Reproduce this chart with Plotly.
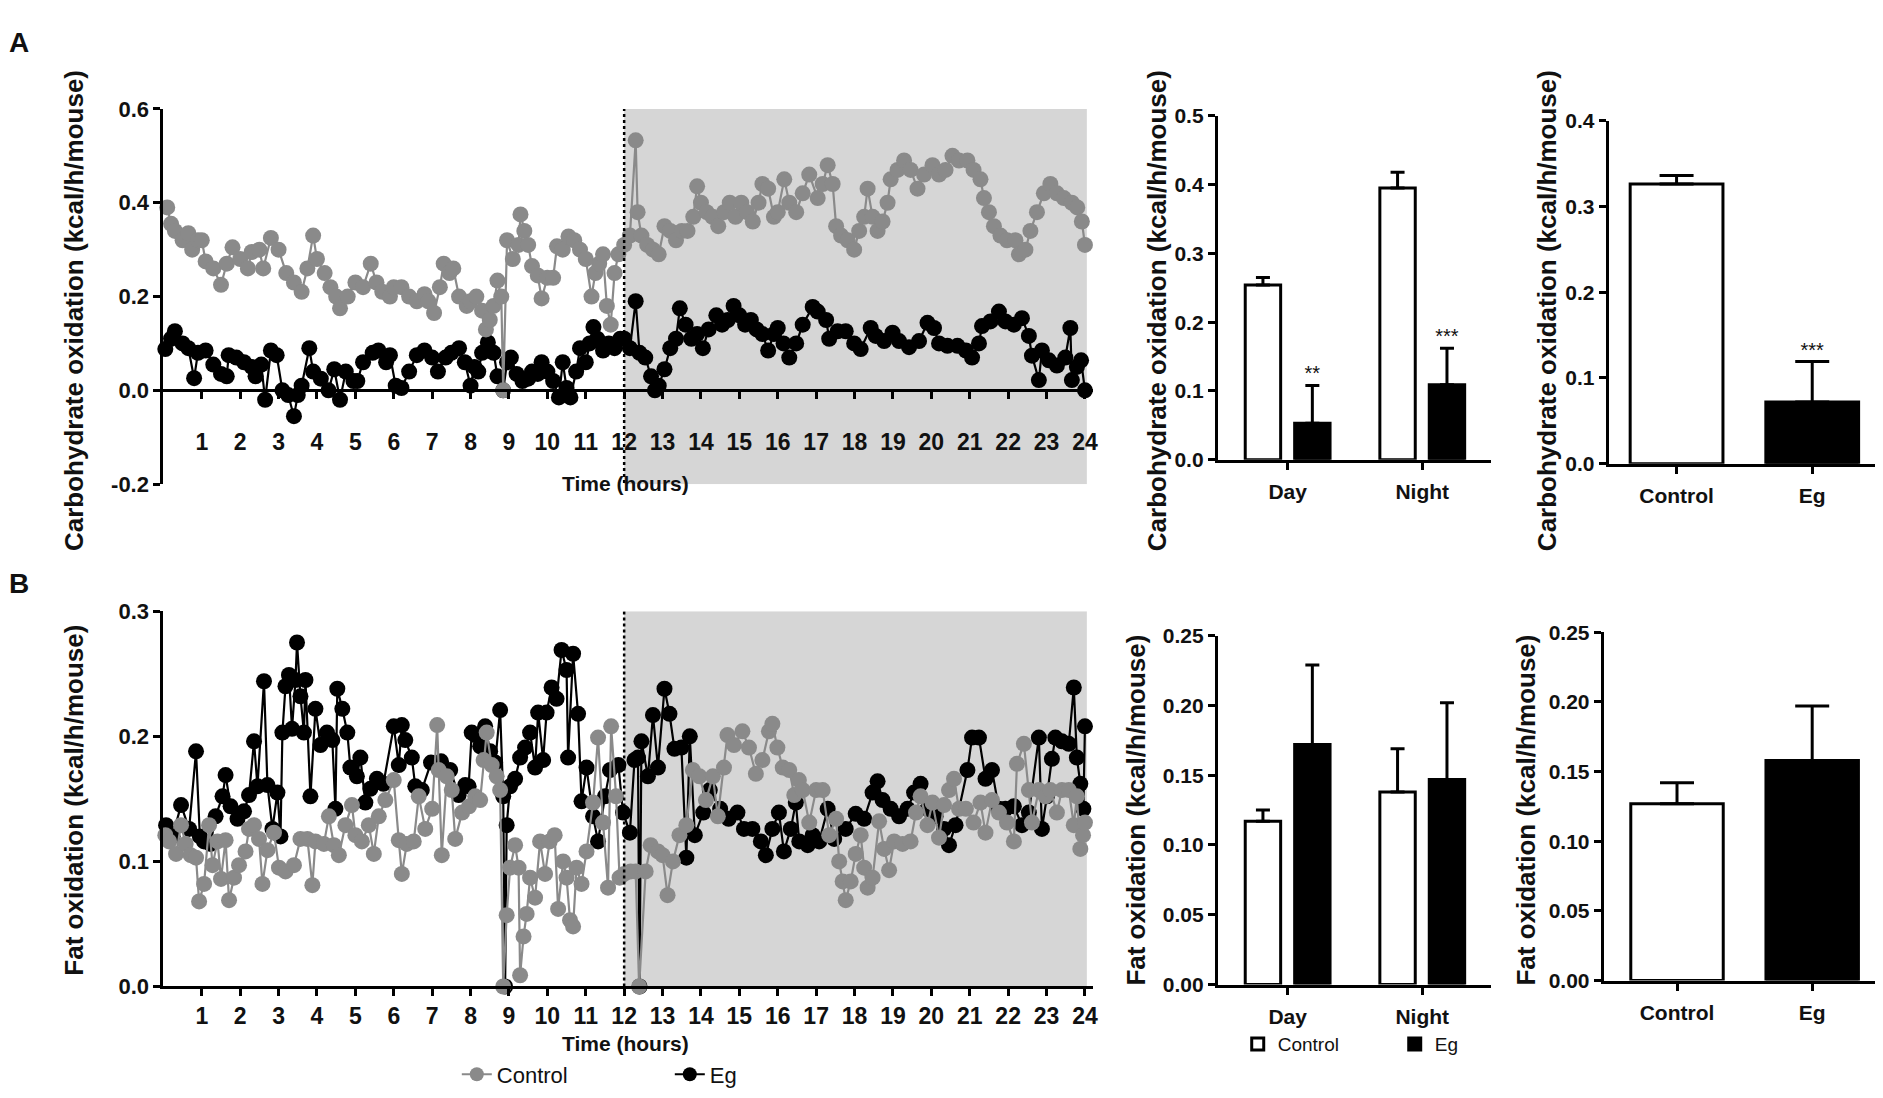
import plotly.graph_objects as go

W, H = 1883, 1098

# ---------------- data ----------------
hour_ticks = list(range(1, 25))
hour_labels = [str(h) for h in hour_ticks]
lights_off = 12
day_end = 24.05

a_ctrl_t = [0.1, 0.2, 0.3, 0.5, 0.65, 0.75, 0.9, 1.0, 1.1, 1.3, 1.5, 1.65, 1.8, 2.0, 2.2, 2.3, 2.5, 2.6, 2.8, 3.0,
            3.2, 3.4, 3.6, 3.75, 3.9, 4.0, 4.2, 4.35, 4.5, 4.6, 4.8, 5.0, 5.2, 5.4, 5.55, 5.7, 5.9, 6.0, 6.2, 6.4,
            6.6, 6.8, 6.9, 7.05, 7.2, 7.3, 7.45, 7.55, 7.7, 7.9, 8.0, 8.15, 8.3, 8.4, 8.5, 8.6, 8.7, 8.8, 8.85, 8.95,
            9.1, 9.25, 9.3, 9.4, 9.5, 9.6, 9.75, 9.85, 10.0, 10.15, 10.25, 10.4, 10.55, 10.7, 10.85, 11.0, 11.15, 11.25, 11.35, 11.45,
            11.55, 11.65, 11.75, 11.85, 12.0, 12.15, 12.3, 12.35, 12.45, 12.6, 12.75, 12.9, 13.05, 13.2, 13.35, 13.5, 13.65, 13.8, 13.9, 14.0,
            14.15, 14.3, 14.45, 14.6, 14.75, 14.9, 15.05, 15.2, 15.35, 15.5, 15.6, 15.75, 15.9, 16.0, 16.17, 16.3, 16.48, 16.65, 16.82, 17.04,
            17.17, 17.3, 17.43, 17.52, 17.65, 17.82, 17.99, 18.12, 18.25, 18.34, 18.47, 18.6, 18.73, 18.86, 18.94, 19.12, 19.29, 19.46, 19.64, 19.81,
            20.03, 20.2, 20.37, 20.55, 20.72, 20.94, 21.1, 21.28, 21.37, 21.5, 21.63, 21.8, 21.97, 22.19, 22.28, 22.45, 22.58, 22.75, 22.93, 23.1,
            23.27, 23.45, 23.66, 23.8, 23.92, 24.0]
a_ctrl_v = [0.39, 0.355, 0.34, 0.32, 0.335, 0.30, 0.32, 0.32, 0.275, 0.26, 0.225, 0.27, 0.305, 0.28, 0.26, 0.295, 0.30, 0.26, 0.325, 0.30,
            0.25, 0.23, 0.21, 0.26, 0.33, 0.28, 0.25, 0.22, 0.20, 0.175, 0.20, 0.23, 0.22, 0.27, 0.23, 0.21, 0.20, 0.22, 0.22, 0.20,
            0.19, 0.205, 0.19, 0.165, 0.22, 0.27, 0.25, 0.26, 0.20, 0.18, 0.19, 0.20, 0.17, 0.13, 0.15, 0.18, 0.234, 0.20, 0.0, 0.32,
            0.28, 0.31, 0.375, 0.34, 0.31, 0.265, 0.245, 0.196, 0.24, 0.24, 0.307, 0.30, 0.328, 0.32, 0.30, 0.28, 0.20, 0.25, 0.27, 0.29,
            0.18, 0.14, 0.25, 0.29, 0.31, 0.33, 0.533, 0.38, 0.33, 0.31, 0.30, 0.29, 0.35, 0.34, 0.32, 0.34, 0.34, 0.37, 0.435, 0.40,
            0.38, 0.37, 0.35, 0.38, 0.40, 0.37, 0.40, 0.38, 0.36, 0.40, 0.44, 0.43, 0.37, 0.38, 0.45, 0.40, 0.38, 0.42, 0.46, 0.41,
            0.44, 0.48, 0.44, 0.35, 0.33, 0.32, 0.30, 0.34, 0.37, 0.43, 0.37, 0.34, 0.36, 0.40, 0.45, 0.47, 0.49, 0.47, 0.43, 0.46,
            0.48, 0.46, 0.47, 0.50, 0.49, 0.49, 0.47, 0.45, 0.41, 0.38, 0.35, 0.33, 0.32, 0.32, 0.29, 0.30, 0.34, 0.38, 0.42, 0.44,
            0.42, 0.41, 0.40, 0.39, 0.36, 0.31]

a_eg_t = [0.05, 0.2, 0.3, 0.5, 0.65, 0.8, 0.9, 1.1, 1.3, 1.5, 1.65, 1.7, 1.9, 2.1, 2.3, 2.4, 2.55, 2.65, 2.8, 2.95,
          3.1, 3.25, 3.4, 3.5, 3.6, 3.8, 3.9, 4.1, 4.3, 4.45, 4.6, 4.75, 4.95, 5.05, 5.2, 5.45, 5.6, 5.8, 5.9, 6.05,
          6.2, 6.4, 6.6, 6.8, 7.0, 7.15, 7.35, 7.5, 7.7, 7.85, 8.0, 8.1, 8.2, 8.3, 8.45, 8.6, 8.7, 8.85, 8.95, 9.05,
          9.2, 9.35, 9.5, 9.6, 9.75, 9.85, 10.0, 10.15, 10.3, 10.4, 10.5, 10.6, 10.75, 10.85, 11.0, 11.1, 11.2, 11.3, 11.45, 11.6,
          11.75, 11.9, 12.0, 12.15, 12.3, 12.4, 12.55, 12.7, 12.8, 12.9, 13.05, 13.2, 13.35, 13.45, 13.6, 13.75, 13.9, 14.05, 14.2, 14.4,
          14.55, 14.7, 14.85, 15.0, 15.15, 15.3, 15.45, 15.6, 15.75, 15.9, 16.0, 16.15, 16.3, 16.48, 16.65, 16.91, 17.04, 17.26, 17.34, 17.56,
          17.77, 17.99, 18.16, 18.42, 18.55, 18.77, 18.99, 19.16, 19.42, 19.68, 19.9, 20.07, 20.2, 20.42, 20.68, 20.9, 21.06, 21.24, 21.32, 21.54,
          21.76, 21.93, 22.15, 22.36, 22.54, 22.62, 22.8, 22.88, 23.06, 23.27, 23.49, 23.62, 23.66, 23.79, 23.9, 24.0]
a_eg_v = [0.088, 0.11, 0.126, 0.10, 0.09, 0.026, 0.08, 0.085, 0.055, 0.035, 0.03, 0.075, 0.07, 0.06, 0.05, 0.03, 0.055, -0.02, 0.085, 0.075,
          0.0, -0.01, -0.055, -0.01, 0.01, 0.09, 0.04, 0.025, 0.0, 0.045, -0.02, 0.04, 0.02, 0.02, 0.06, 0.08, 0.085, 0.06, 0.075, 0.01,
          0.005, 0.04, 0.075, 0.085, 0.07, 0.04, 0.07, 0.08, 0.09, 0.06, 0.01, 0.05, 0.04, 0.08, 0.102, 0.08, 0.03, 0.0, 0.06, 0.07,
          0.035, 0.02, 0.025, 0.04, 0.035, 0.06, 0.04, 0.02, -0.015, 0.06, 0.005, -0.015, 0.04, 0.09, 0.06, 0.10, 0.135, 0.11, 0.085, 0.10,
          0.09, 0.11, 0.11, 0.09, 0.19, 0.08, 0.07, 0.03, 0.0, 0.01, 0.045, 0.09, 0.11, 0.175, 0.14, 0.11, 0.12, 0.09, 0.13, 0.16,
          0.14, 0.15, 0.18, 0.16, 0.14, 0.15, 0.13, 0.12, 0.085, 0.12, 0.133, 0.10, 0.07, 0.10, 0.14, 0.178, 0.168, 0.15, 0.11, 0.126,
          0.126, 0.10, 0.088, 0.133, 0.116, 0.105, 0.123, 0.105, 0.092, 0.105, 0.144, 0.133, 0.10, 0.095, 0.095, 0.085, 0.07, 0.10, 0.137, 0.147,
          0.168, 0.147, 0.14, 0.154, 0.116, 0.074, 0.022, 0.085, 0.064, 0.053, 0.07, 0.133, 0.022, 0.05, 0.064, 0.0]

b_ctrl_t = [0.05, 0.15, 0.33, 0.46, 0.58, 0.71, 0.85, 0.93, 1.06, 1.19, 1.28, 1.41, 1.5, 1.62, 1.71, 1.84, 1.97, 2.14, 2.23, 2.36,
            2.49, 2.58, 2.71, 2.88, 3.01, 3.18, 3.4, 3.57, 3.75, 3.88, 3.96, 4.18, 4.31, 4.44, 4.57, 4.74, 4.91, 5.0, 5.17, 5.35,
            5.48, 5.61, 5.78, 6.0, 6.13, 6.21, 6.34, 6.52, 6.65, 6.82, 7.0, 7.13, 7.17, 7.25, 7.38, 7.51, 7.6, 7.78, 7.96, 8.12,
            8.25, 8.34, 8.42, 8.55, 8.68, 8.77, 8.85, 8.94, 9.03, 9.16, 9.25, 9.29, 9.38, 9.46, 9.55, 9.68, 9.81, 9.94, 10.06, 10.19,
            10.28, 10.41, 10.5, 10.59, 10.67, 10.76, 10.89, 11.02, 11.19, 11.32, 11.45, 11.58, 11.66, 11.79, 11.88, 12.0, 12.17, 12.3, 12.39, 12.56,
            12.69, 12.88, 13.0, 13.13, 13.27, 13.44, 13.62, 13.79, 13.96, 14.13, 14.31, 14.44, 14.6, 14.69, 14.86, 15.08, 15.25, 15.43, 15.6, 15.77,
            15.86, 15.99, 16.13, 16.3, 16.43, 16.55, 16.65, 16.82, 17.0, 17.17, 17.34, 17.52, 17.6, 17.69, 17.77, 17.9, 18.03, 18.16, 18.25, 18.34,
            18.47, 18.64, 18.77, 18.9, 19.03, 19.25, 19.46, 19.6, 19.72, 19.9, 20.03, 20.2, 20.33, 20.46, 20.59, 20.72, 20.9, 21.1, 21.28, 21.41,
            21.58, 21.76, 21.97, 22.15, 22.23, 22.41, 22.54, 22.62, 22.8, 22.97, 23.1, 23.27, 23.4, 23.58, 23.71, 23.79, 23.88, 23.95, 24.0]
b_ctrl_v = [0.121, 0.116, 0.106, 0.129, 0.114, 0.105, 0.103, 0.068, 0.082, 0.129, 0.097, 0.116, 0.086, 0.117, 0.069, 0.087, 0.097, 0.108, 0.126, 0.129,
            0.118, 0.082, 0.109, 0.123, 0.095, 0.092, 0.097, 0.118, 0.118, 0.081, 0.116, 0.114, 0.136, 0.113, 0.105, 0.129, 0.145, 0.121, 0.116, 0.129,
            0.106, 0.136, 0.149, 0.165, 0.117, 0.09, 0.114, 0.116, 0.152, 0.126, 0.142, 0.209, 0.173, 0.105, 0.168, 0.157, 0.118, 0.139, 0.144, 0.152,
            0.149, 0.181, 0.203, 0.177, 0.168, 0.157, 0.0, 0.057, 0.095, 0.113, 0.095, 0.009, 0.04, 0.058, 0.087, 0.071, 0.116, 0.09, 0.116, 0.121,
            0.062, 0.10, 0.087, 0.053, 0.048, 0.095, 0.082, 0.108, 0.147, 0.199, 0.131, 0.079, 0.208, 0.152, 0.087, 0.09, 0.092, 0.092, 0.0, 0.092,
            0.113, 0.108, 0.105, 0.073, 0.10, 0.121, 0.129, 0.173, 0.168, 0.149, 0.168, 0.136, 0.175, 0.201, 0.193, 0.204, 0.191, 0.17, 0.181, 0.204,
            0.21, 0.191, 0.175, 0.173, 0.153, 0.165, 0.157, 0.131, 0.157, 0.157, 0.121, 0.134, 0.10, 0.084, 0.069, 0.084, 0.106, 0.121, 0.095, 0.079,
            0.087, 0.132, 0.11, 0.093, 0.116, 0.114, 0.116, 0.139, 0.152, 0.129, 0.147, 0.119, 0.145, 0.157, 0.166, 0.142, 0.142, 0.131, 0.147, 0.123,
            0.149, 0.139, 0.131, 0.116, 0.178, 0.194, 0.157, 0.131, 0.157, 0.152, 0.157, 0.139, 0.157, 0.157, 0.129, 0.152, 0.11, 0.121, 0.131]

b_eg_t = [0.07, 0.24, 0.46, 0.67, 0.85, 0.95, 1.06, 1.23, 1.36, 1.54, 1.62, 1.75, 1.93, 2.1, 2.23, 2.36, 2.45, 2.62, 2.71, 2.84,
          2.97, 3.05, 3.1, 3.18, 3.27, 3.35, 3.44, 3.48, 3.57, 3.66, 3.7, 3.83, 3.96, 4.09, 4.26, 4.4, 4.48, 4.53, 4.66, 4.79,
          4.87, 5.04, 5.13, 5.26, 5.39, 5.56, 5.73, 6.0, 6.13, 6.21, 6.3, 6.47, 6.56, 6.73, 6.97, 7.23, 7.47, 7.69, 7.86, 7.95,
          8.03, 8.12, 8.25, 8.38, 8.51, 8.64, 8.77, 8.85, 8.9, 8.94, 9.03, 9.16, 9.29, 9.42, 9.55, 9.68, 9.76, 9.89, 9.98, 10.11,
          10.24, 10.37, 10.5, 10.54, 10.67, 10.8, 10.89, 11.02, 11.19, 11.32, 11.5, 11.63, 11.85, 11.97, 12.15, 12.27, 12.36, 12.4, 12.45, 12.62,
          12.75, 12.88, 13.05, 13.18, 13.31, 13.49, 13.62, 13.71, 13.84, 14.06, 14.23, 14.5, 14.72, 14.95, 15.12, 15.34, 15.56, 15.69, 15.86, 16.03,
          16.16, 16.34, 16.47, 16.56, 16.78, 16.91, 17.08, 17.3, 17.47, 17.77, 18.03, 18.25, 18.47, 18.6, 18.73, 18.94, 19.16, 19.38, 19.55, 19.72,
          19.9, 20.11, 20.33, 20.46, 20.63, 20.94, 21.06, 21.24, 21.41, 21.58, 21.76, 21.93, 22.15, 22.36, 22.54, 22.8, 22.88, 23.01, 23.14, 23.23,
          23.4, 23.58, 23.71, 23.79, 23.88, 23.96, 24.0]
b_eg_v = [0.129, 0.12, 0.145, 0.126, 0.188, 0.12, 0.116, 0.114, 0.136, 0.152, 0.169, 0.144, 0.134, 0.14, 0.153, 0.196, 0.16, 0.244, 0.161, 0.126,
          0.155, 0.12, 0.203, 0.24, 0.249, 0.206, 0.245, 0.275, 0.232, 0.203, 0.245, 0.152, 0.222, 0.193, 0.203, 0.197, 0.142, 0.238, 0.222, 0.203,
          0.175, 0.168, 0.183, 0.147, 0.158, 0.166, 0.162, 0.208, 0.177, 0.209, 0.197, 0.183, 0.16, 0.157, 0.179, 0.18, 0.173, 0.153, 0.161, 0.16,
          0.203, 0.201, 0.192, 0.208, 0.188, 0.179, 0.221, 0.152, 0.0, 0.129, 0.16, 0.166, 0.183, 0.191, 0.203, 0.175, 0.219, 0.181, 0.219, 0.239,
          0.23, 0.269, 0.253, 0.183, 0.266, 0.218, 0.148, 0.175, 0.136, 0.116, 0.152, 0.173, 0.177, 0.139, 0.123, 0.181, 0.183, 0.0, 0.196, 0.168,
          0.217, 0.175, 0.238, 0.218, 0.19, 0.191, 0.103, 0.20, 0.121, 0.139, 0.157, 0.142, 0.134, 0.139, 0.126, 0.126, 0.116, 0.105, 0.126, 0.139,
          0.108, 0.126, 0.147, 0.116, 0.113, 0.121, 0.116, 0.142, 0.118, 0.126, 0.138, 0.134, 0.155, 0.164, 0.149, 0.142, 0.136, 0.142, 0.155, 0.162,
          0.142, 0.136, 0.126, 0.113, 0.129, 0.173, 0.199, 0.199, 0.166, 0.173, 0.142, 0.142, 0.144, 0.129, 0.139, 0.199, 0.126, 0.152, 0.182, 0.199,
          0.196, 0.194, 0.239, 0.183, 0.162, 0.142, 0.208]

period_cats = ["Day", "Night"]
group_cats = ["Control", "Eg"]

cho_period_ctrl = [0.254, 0.395]
cho_period_ctrl_err = [0.011, 0.023]
cho_period_eg = [0.053, 0.109]
cho_period_eg_err = [0.055, 0.053]
cho_period_stars = ["**", "***"]

cho_total = [0.326, 0.072]
cho_total_err = [0.010, 0.047]
cho_total_stars = ["", "***"]

fat_period_ctrl = [0.117, 0.138]
fat_period_ctrl_err = [0.008, 0.031]
fat_period_eg = [0.172, 0.147]
fat_period_eg_err = [0.057, 0.055]

fat_total = [0.127, 0.158]
fat_total_err = [0.015, 0.039]

# ---------------- style ----------------
FONT = "Liberation Sans, Arial, sans-serif"
GRAY = "rgb(138,138,138)"
SHADE = "rgb(214,214,214)"
INK = "#111111"
MSIZE = 16


def fx(p):
    return p / W


def fy(p):
    return 1 - p / H


fig = go.Figure()


def series(t, v, color, name, xa, ya):
    fig.add_trace(go.Scatter(
        x=t, y=v, mode="lines+markers", name=name,
        line=dict(color=color, width=2.2),
        marker=dict(color=color, size=MSIZE),
        xaxis=xa, yaxis=ya, showlegend=False, cliponaxis=False))


series(a_eg_t, a_eg_v, "black", "Eg", "x", "y")
series(a_ctrl_t, a_ctrl_v, GRAY, "Control", "x", "y")
series(b_eg_t, b_eg_v, "black", "Eg", "x2", "y2")
series(b_ctrl_t, b_ctrl_v, GRAY, "Control", "x2", "y2")
# legend entries (Control first, then Eg)
fig.add_trace(go.Scatter(x=[None], y=[None], mode="lines+markers", name="Control",
                         line=dict(color=GRAY, width=2.2), marker=dict(color=GRAY, size=14),
                         xaxis="x2", yaxis="y2", legend="legend"))
fig.add_trace(go.Scatter(x=[None], y=[None], mode="lines+markers", name="Eg",
                         line=dict(color="black", width=2.2), marker=dict(color="black", size=14),
                         xaxis="x2", yaxis="y2", legend="legend"))

BW = 0.263
OFF_C = -0.315
OFF_E = 0.052


def err(arr):
    return dict(type="data", array=arr, arrayminus=[0] * len(arr), symmetric=False,
                color="black", thickness=3, width=7)


def period_bars(ctrl, ctrl_err, eg, eg_err, xa, ya, legend):
    fig.add_trace(go.Bar(x=[0, 1], y=ctrl, name="Control", width=BW, offset=OFF_C,
                         marker=dict(color="white", line=dict(color="black", width=3)),
                         error_y=err(ctrl_err), xaxis=xa, yaxis=ya,
                         showlegend=legend, legend="legend2"))
    fig.add_trace(go.Bar(x=[0, 1], y=eg, name="Eg", width=BW, offset=OFF_E,
                         marker=dict(color="black", line=dict(color="black", width=3)),
                         error_y=err(eg_err), xaxis=xa, yaxis=ya,
                         showlegend=legend, legend="legend2"))


def total_bars(vals, errs, xa, ya):
    fig.add_trace(go.Bar(x=[0, 1], y=vals, width=0.684,
                         marker=dict(color=["white", "black"], line=dict(color="black", width=3)),
                         error_y=dict(type="data", array=errs, arrayminus=[0, 0], symmetric=False,
                                      color="black", thickness=3, width=17),
                         xaxis=xa, yaxis=ya, showlegend=False))


period_bars(cho_period_ctrl, cho_period_ctrl_err, cho_period_eg, cho_period_eg_err, "x3", "y3", False)
total_bars(cho_total, cho_total_err, "x4", "y4")
period_bars(fat_period_ctrl, fat_period_ctrl_err, fat_period_eg, fat_period_eg_err, "x5", "y5", True)
total_bars(fat_total, fat_total_err, "x6", "y6")

# significance stars
for i, s in enumerate(cho_period_stars):
    fig.add_trace(go.Scatter(x=[i + OFF_E + BW / 2], y=[cho_period_eg[i] + cho_period_eg_err[i]],
                             mode="text", text=[s], textposition="top center",
                             textfont=dict(size=20, color=INK, family=FONT),
                             xaxis="x3", yaxis="y3", showlegend=False, cliponaxis=False))
for i, s in enumerate(cho_total_stars):
    if s:
        fig.add_trace(go.Scatter(x=[i], y=[cho_total[i] + cho_total_err[i]],
                                 mode="text", text=[s], textposition="top center",
                                 textfont=dict(size=20, color=INK, family=FONT),
                                 xaxis="x4", yaxis="y4", showlegend=False, cliponaxis=False))

axis_common = dict(showline=True, linecolor="black", linewidth=3, ticks="outside",
                   ticklen=7, tickwidth=2.5, tickcolor="black", showgrid=False, zeroline=False,
                   tickfont=dict(family=FONT, size=21, color=INK, weight="bold"))

time_x = dict(axis_common, range=[0, 24.2], tickvals=hour_ticks, ticktext=hour_labels,
              domain=[fx(155.8), fx(1087.5)],
              tickfont=dict(family=FONT, size=23, color=INK, weight="bold"))

layout = dict(
    width=W, height=H, margin=dict(l=0, r=0, t=0, b=0),
    paper_bgcolor="white", plot_bgcolor="rgba(0,0,0,0)",
    barmode="overlay", font=dict(family=FONT, color=INK),
    xaxis=dict(time_x, anchor="free", position=fy(379), ticklabelstandoff=23),
    yaxis=dict(axis_common, range=[-0.2, 0.6], tickvals=[-0.2, 0, 0.2, 0.4, 0.6],
               ticktext=["-0.2", "0.0", "0.2", "0.4", "0.6"], anchor="x",
               domain=[fy(475), fy(91)], tickfont=dict(family=FONT, size=22, color=INK, weight="bold")),
    xaxis2=dict(time_x, anchor="y2", ticklabelstandoff=0),
    yaxis2=dict(axis_common, range=[0, 0.3], tickvals=[0, 0.1, 0.2, 0.3],
                ticktext=["0.0", "0.1", "0.2", "0.3"], anchor="x2",
                domain=[fy(989), fy(605)], tickfont=dict(family=FONT, size=22, color=INK, weight="bold")),
    xaxis3=dict(axis_common, range=[-0.519, 1.511], tickvals=[0, 1], ticktext=period_cats,
                anchor="y3", domain=[fx(1213), fx(1487)], ticklabelstandoff=4),
    yaxis3=dict(axis_common, range=[0, 0.5], dtick=0.1, tickformat=".1f", anchor="x3",
                domain=[fy(450), fy(98)]),
    xaxis4=dict(axis_common, range=[-0.5, 1.485], tickvals=[0, 1], ticktext=group_cats,
                anchor="y4", domain=[fx(1605), fx(1875)], ticklabelstandoff=4),
    yaxis4=dict(axis_common, range=[0, 0.4], dtick=0.1, tickformat=".1f", anchor="x4",
                domain=[fy(454), fy(103)]),
    xaxis5=dict(axis_common, range=[-0.519, 1.511], tickvals=[0, 1], ticktext=period_cats,
                anchor="y5", domain=[fx(1213), fx(1487)], ticklabelstandoff=4),
    yaxis5=dict(axis_common, range=[0, 0.25], dtick=0.05, tickformat=".2f", anchor="x5",
                domain=[fy(987), fy(630)]),
    xaxis6=dict(axis_common, range=[-0.542, 1.487], tickvals=[0, 1], ticktext=group_cats,
                anchor="y6", domain=[fx(1600), fx(1875)], ticklabelstandoff=4),
    yaxis6=dict(axis_common, range=[0, 0.25], dtick=0.05, tickformat=".2f", anchor="x6",
                domain=[fy(983), fy(626.5)]),
    legend=dict(orientation="h", x=fx(450), y=fy(1079), xanchor="left", yanchor="middle",
                font=dict(family=FONT, size=22, color=INK), entrywidth=168,
                bgcolor="rgba(0,0,0,0)", traceorder="normal"),
    legend2=dict(orientation="h", x=fx(1233), y=fy(1048), xanchor="left", yanchor="middle",
                 font=dict(family=FONT, size=19, color=INK), entrywidth=112,
                 bgcolor="rgba(0,0,0,0)", traceorder="normal"),
)
fig.update_layout(**layout)

# night shading and lights-off line
fig.add_shape(type="rect", xref="x", yref="y", x0=lights_off, x1=day_end, y0=-0.2, y1=0.6,
              fillcolor=SHADE, line=dict(width=0), layer="below")
fig.add_shape(type="rect", xref="x2", yref="y2", x0=lights_off, x1=day_end, y0=0, y1=0.3,
              fillcolor=SHADE, line=dict(width=0), layer="below")
fig.add_shape(type="line", xref="x", yref="y", x0=lights_off, x1=lights_off, y0=-0.21, y1=0.6,
              line=dict(color="black", width=2.5, dash="dot"))
fig.add_shape(type="line", xref="x2", yref="y2", x0=lights_off, x1=lights_off, y0=0, y1=0.3,
              line=dict(color="black", width=2.5, dash="dot"))


def label(text, x, y, size, angle=0, bold=True):
    fig.add_annotation(text=text, x=fx(x), y=fy(y), xref="paper", yref="paper",
                       showarrow=False, textangle=angle, xanchor="center", yanchor="middle",
                       font=dict(family=FONT, size=size, color=INK, weight="bold" if bold else "normal"))


label("Carbohydrate oxidation (kcal/h/mouse)", 66, 297, 26, -90)
label("Fat oxidation (kcal/h/mouse)", 66, 798, 26, -90)
label("Carbohydrate oxidation (kcal/h/mouse)", 1152, 297, 26, -90)
label("Carbohydrate oxidation (kcal/h/mouse)", 1543, 297, 26, -90)
label("Fat oxidation (kcal/h/mouse)", 1131, 808, 26, -90)
label("Fat oxidation (kcal/h/mouse)", 1522, 808, 26, -90)
label("Time (hours)", 619, 474, 21)
label("Time (hours)", 619, 1047, 21)
label("A", 11, 23, 28)
label("B", 11, 577, 28)

fig.write_html("out.html")
